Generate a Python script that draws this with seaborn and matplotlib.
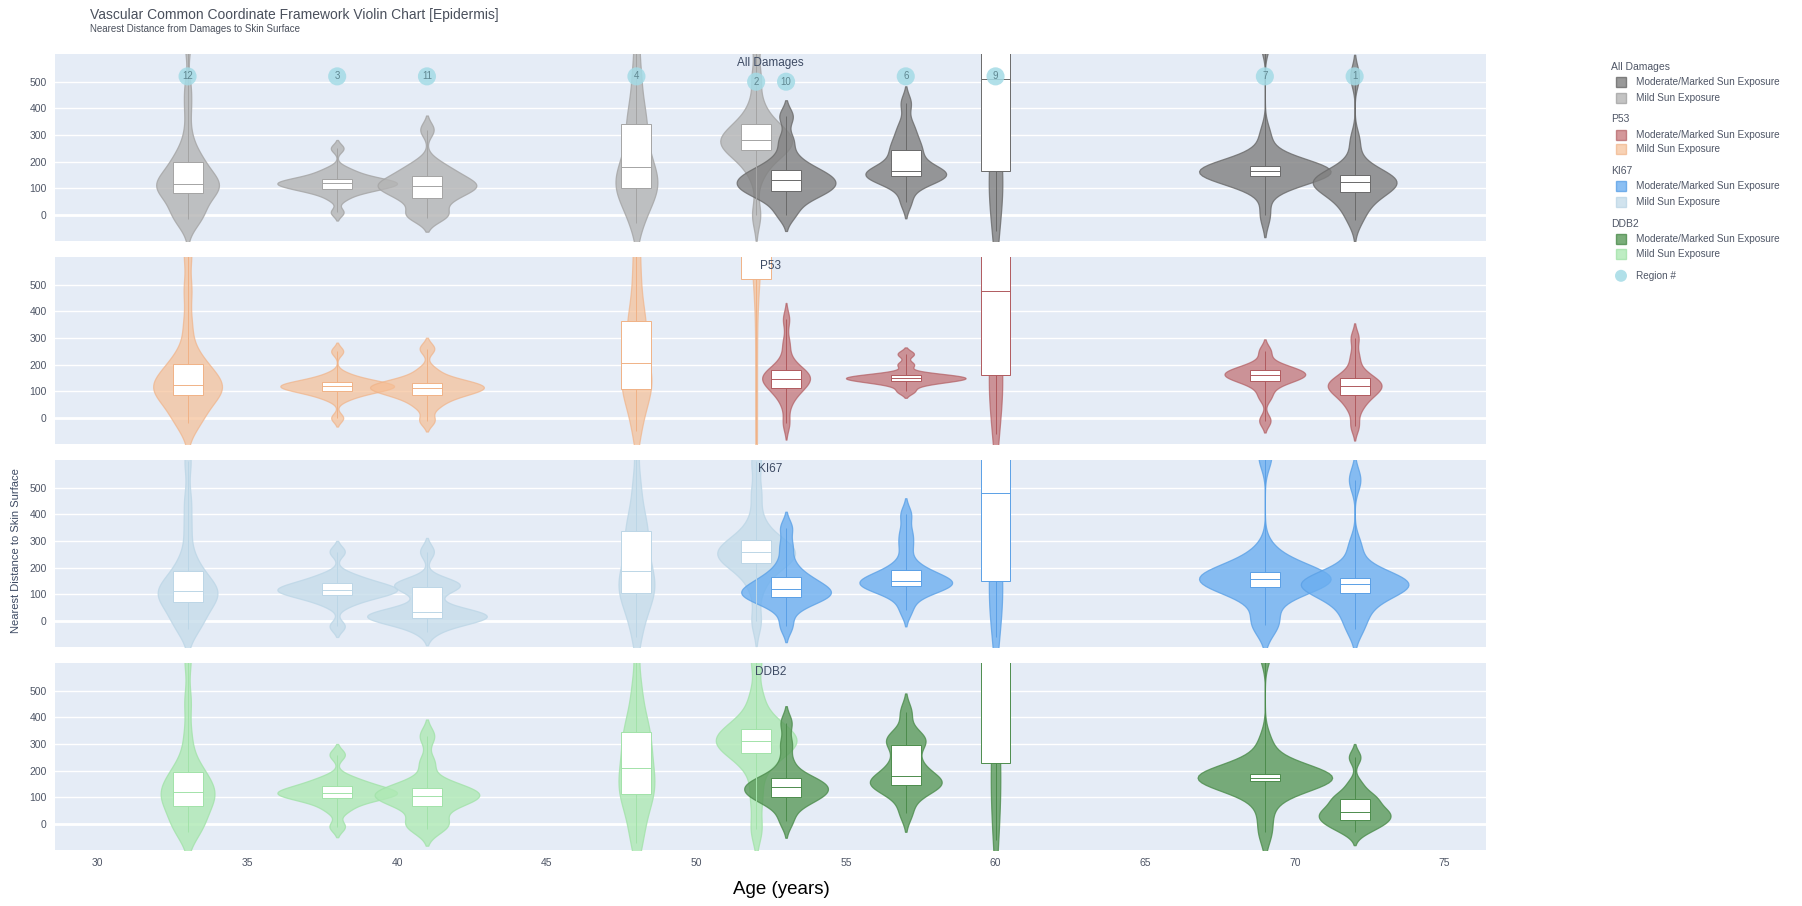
import matplotlib
matplotlib.use("Agg")
import matplotlib.pyplot as plt
from matplotlib.patches import Rectangle, Ellipse
import seaborn as sns

# ---- data -------------------------------------------------------------
AGES_MILD = [33, 38, 41, 48, 52]
AGES_MOD = [53, 57, 60, 69, 72]

# nearest distance to skin surface, one list per sample (ordered like the ages)
ALL_MILD = [
    [-15, -5, 0, 5, 10, 70, 80, 90, 95, 100, 105, 110, 115, 120, 125, 135, 150, 175, 195, 200, 215, 240, 300, 400, 480, 640],
    [10, 60, 80, 90, 95, 100, 105, 110, 115, 118, 120, 122, 125, 130, 135, 140, 150, 160, 175, 250],
    [-10, 0, 10, 50, 60, 75, 90, 100, 105, 110, 115, 125, 135, 150, 160, 175, 200, 320],
    [-30, 20, 60, 90, 100, 110, 130, 160, 180, 200, 250, 300, 340, 380, 450, 550, 700],
    [0, 150, 200, 230, 245, 255, 265, 275, 280, 290, 300, 320, 340, 360, 420, 520, 650],
]
ALL_MOD = [
    [0, 40, 70, 80, 90, 100, 110, 120, 130, 135, 145, 160, 170, 185, 220, 280, 370],
    [50, 110, 130, 140, 145, 150, 155, 160, 165, 175, 200, 230, 245, 270, 300, 340, 420],
    [-60, 40, 120, 155, 165, 350, 450, 500, 510, 540, 580, 620, 680, 750, 850, 1000, 1200],
    [0, 100, 130, 140, 145, 150, 155, 158, 160, 163, 166, 170, 175, 180, 185, 195, 220, 300, 650],
    [-20, 20, 50, 75, 85, 100, 110, 120, 125, 130, 135, 140, 150, 160, 200, 280, 520],
]
P53_MILD = [
    [-20, 0, 10, 60, 80, 95, 100, 110, 115, 125, 135, 150, 175, 195, 210, 250, 350, 480, 620],
    [0, 70, 85, 95, 100, 105, 110, 115, 118, 120, 122, 126, 130, 135, 140, 150, 165, 250],
    [-10, 40, 65, 80, 90, 100, 105, 110, 115, 120, 125, 130, 140, 150, 180, 260],
    [-50, 20, 80, 100, 110, 140, 170, 190, 220, 280, 330, 350, 400, 480, 580, 700],
    [-100, 100, 300, 480, 560, 580, 600, 630, 660, 700, 750, 800, 900, 1000, 1100],
]
P53_MOD = [
    [-20, 50, 90, 100, 115, 130, 140, 145, 150, 160, 170, 175, 190, 220, 280, 370],
    [100, 125, 135, 140, 145, 148, 150, 152, 155, 160, 165, 200, 240],
    [-60, 40, 120, 155, 160, 300, 400, 450, 475, 500, 540, 600, 680, 750, 850, 1000, 1200],
    [-10, 80, 120, 140, 150, 155, 160, 165, 170, 180, 185, 200, 250],
    [-30, 30, 60, 80, 90, 105, 115, 120, 125, 135, 145, 155, 180, 230, 300],
]
KI67_MILD = [
    [-30, -10, 0, 20, 60, 75, 85, 95, 105, 110, 115, 120, 135, 160, 185, 200, 250, 350, 450, 600],
    [-20, 60, 80, 90, 100, 105, 110, 115, 120, 125, 130, 140, 145, 160, 175, 260],
    [-40, -10, 0, 5, 10, 15, 20, 25, 30, 35, 40, 80, 120, 130, 135, 140, 150, 260],
    [-60, 20, 60, 100, 105, 130, 160, 175, 200, 250, 300, 330, 360, 420, 520, 700],
    [0, 120, 180, 210, 220, 235, 245, 255, 260, 270, 285, 300, 320, 380, 480, 600],
]
KI67_MOD = [
    [-20, 40, 70, 80, 90, 95, 100, 110, 120, 125, 135, 150, 165, 180, 220, 280, 350],
    [40, 90, 115, 125, 130, 135, 140, 145, 150, 155, 165, 180, 190, 220, 280, 330, 400],
    [-60, 30, 110, 145, 150, 300, 400, 450, 480, 510, 550, 600, 680, 750, 850, 1000, 1200],
    [-15, 0, 90, 120, 130, 140, 150, 155, 160, 165, 170, 180, 190, 210, 260, 620],
    [-30, 20, 60, 90, 110, 120, 130, 135, 140, 145, 150, 160, 170, 200, 280, 530],
]
DDB2_MILD = [
    [-30, -10, 0, 10, 60, 75, 90, 100, 110, 120, 130, 145, 170, 190, 200, 240, 330, 460, 620],
    [-10, 50, 75, 90, 100, 105, 110, 115, 118, 122, 130, 140, 145, 160, 175, 260],
    [-20, 0, 10, 60, 75, 90, 100, 105, 110, 120, 130, 140, 160, 230, 330],
    [-70, 0, 70, 110, 115, 150, 190, 210, 250, 300, 330, 360, 420, 520, 700],
    [-20, 100, 200, 260, 275, 290, 300, 310, 320, 335, 350, 365, 400, 480, 620],
]
DDB2_MOD = [
    [10, 60, 90, 95, 105, 115, 125, 135, 140, 150, 160, 170, 180, 230, 300, 380],
    [40, 100, 130, 140, 150, 155, 165, 170, 190, 220, 240, 290, 310, 320, 340, 420],
    [-60, 40, 130, 215, 230, 400, 500, 560, 620, 660, 700, 750, 800, 850, 950, 1100, 1300],
    [-30, 60, 140, 155, 162, 166, 170, 172, 175, 178, 182, 186, 192, 210, 300, 650],
    [-30, -10, 0, 10, 20, 30, 40, 45, 55, 70, 90, 100, 110, 150, 250],
]

PANEL_TITLES = ["All Damages", "P53", "KI67", "DDB2"]
PANEL_DATA = [(ALL_MILD, ALL_MOD), (P53_MILD, P53_MOD),
              (KI67_MILD, KI67_MOD), (DDB2_MILD, DDB2_MOD)]

REGION_AGES = [33, 38, 41, 48, 52, 53, 57, 60, 69, 72]
REGION_Y = [520, 520, 520, 520, 500, 500, 520, 520, 520, 520]
REGION_LABELS = ["12", "3", "11", "4", "2", "10", "6", "9", "7", "1"]

X_TICKS = [30, 35, 40, 45, 50, 55, 60, 65, 70, 75]
Y_TICKS = [0, 100, 200, 300, 400, 500]

# ---- styling ----------------------------------------------------------
# (mild fill, mild line, moderate fill, moderate line, alpha)
PANEL_COLORS = [
    ("#b4b4b4", "#a4a4a4", "#808080", "#6a6a6a", 0.8),
    ("#f6bd92", "#f0b286", "#c0676b", "#b05a5e", 0.68),
    ("#c5dcea", "#bcd6e6", "#6aaef0", "#5aa0e6", 0.78),
    ("#aee9b4", "#a2e2a9", "#5a9a5a", "#4c8c4c", 0.8),
]
# maximum violin width (in years) per sample
WIDTH_MILD = [
    [2.1, 4.0, 3.3, 1.4, 2.4],
    [2.3, 3.8, 3.8, 1.0, 0.3],
    [2.0, 4.0, 4.0, 1.2, 2.6],
    [1.8, 4.0, 3.5, 1.2, 2.7],
]
WIDTH_MOD = [
    [3.3, 2.7, 0.7, 4.4, 2.8],
    [1.6, 4.0, 0.6, 2.7, 1.8],
    [3.0, 3.1, 0.6, 4.4, 3.6],
    [2.8, 2.4, 0.5, 4.5, 2.4],
]

FONT = ["Liberation Sans", "DejaVu Sans"]
plt.rcParams["font.family"] = FONT
TEXT_COL = "#4f5666"
BG = "#e5ecf6"
REGION_COL = "#a4dbe6"

W, H = 1802, 906
fig = plt.figure(figsize=(W / 100, H / 100), dpi=100)
fig.patch.set_facecolor("white")

PANEL_TOPS = [54, 257, 460, 663]
PANEL_H = 187
LEFT, RIGHT = 55, 1486


def draw_sample(ax, age, vals, width, fill, line, alpha):
    xs = [age] * len(vals)
    sns.violinplot(x=xs, y=vals, ax=ax, native_scale=True, orient="x",
                   width=width, color=fill, linecolor=line, linewidth=0.9,
                   inner=None, bw_adjust=0.6, cut=2, saturation=1,
                   alpha=alpha)
    sns.boxplot(x=xs, y=vals, ax=ax, native_scale=True, orient="x",
                width=1.0, color="white", linecolor=line, linewidth=0.7,
                whis=(0, 100), showcaps=False, showfliers=False,
                saturation=1)


axes = []
for i, top in enumerate(PANEL_TOPS):
    ax = fig.add_axes([LEFT / W, 1 - (top + PANEL_H) / H,
                       (RIGHT - LEFT) / W, PANEL_H / H])
    axes.append(ax)
    ax.set_facecolor(BG)
    ax.set_axisbelow(True)
    mild_sets, mod_sets = PANEL_DATA[i]
    mf, ml, df, dl, alpha = PANEL_COLORS[i]
    for age, vals, w in zip(AGES_MILD, mild_sets, WIDTH_MILD[i]):
        draw_sample(ax, age, vals, w, mf, ml, alpha)
    for age, vals, w in zip(AGES_MOD, mod_sets, WIDTH_MOD[i]):
        draw_sample(ax, age, vals, w, df, dl, alpha)

    ax.set_xlim(28.57, 76.39)
    ax.set_ylim(-98, 604)
    ax.set_yticks(Y_TICKS)
    ax.set_xticks(X_TICKS)
    ax.grid(axis="y", color="white", linewidth=1.0)
    ax.grid(axis="x", visible=False)
    ax.axhline(0, color="white", linewidth=2.0, zorder=0.6)
    for s in ax.spines.values():
        s.set_visible(False)
    ax.tick_params(length=0, labelsize=7.5, colors=TEXT_COL, pad=6)
    ax.set_xlabel("")
    ax.set_ylabel("")
    if i < 3:
        ax.set_xticklabels([])
    ax.text(0.5, 1 - 9 / PANEL_H, PANEL_TITLES[i], transform=ax.transAxes,
            ha="center", va="center", fontsize=8.5, color="#3d4a63", zorder=6)

# region markers on the top panel
ax0 = axes[0]
sns.scatterplot(x=REGION_AGES, y=REGION_Y, ax=ax0, s=170, color=REGION_COL,
                alpha=0.85, edgecolor="none", legend=False, zorder=5)
for a, yv, lab in zip(REGION_AGES, REGION_Y, REGION_LABELS):
    ax0.text(a, yv, lab, ha="center", va="center", fontsize=7,
             color="#5f8791", zorder=6)

# titles and axis labels
fig.text(90 / W, 1 - 15 / H, "Vascular Common Coordinate Framework Violin Chart [Epidermis]",
         fontsize=10, color="#4a505c", ha="left", va="center")
fig.text(90 / W, 1 - 29 / H, "Nearest Distance from Damages to Skin Surface",
         fontsize=7, color="#4a505c", ha="left", va="center")
fig.text(16 / W, 1 - 551 / H, "Nearest Distance to Skin Surface", rotation=90,
         fontsize=8, color="#3d4a63", ha="center", va="center")
fig.text(781 / W, 1 - 890 / H, "Age (years)", fontsize=13.5, color="black",
         ha="center", va="center")

# grouped legend
LEG_X_TEXT = 1611 / W
LEG_SW_X = 1616
LEG_ITEM_X = 1636 / W
groups = [
    ("All Damages", 66.7, [81.6, 97.7]),
    ("P53", 119.5, [134.5, 149.4]),
    ("KI67", 171.2, [186.2, 202.3]),
    ("DDB2", 224.1, [239.0, 254.0]),
]
item_names = ["Moderate/Marked Sun Exposure", "Mild Sun Exposure"]
for gi, (gname, gy, iys) in enumerate(groups):
    fig.text(LEG_X_TEXT, 1 - gy / H, gname, fontsize=7.5, color=TEXT_COL,
             ha="left", va="center")
    mf, ml, df, dl, alpha = PANEL_COLORS[gi]
    for (fill, line), name, iy in zip([(df, dl), (mf, ml)], item_names, iys):
        fig.patches.append(Rectangle((LEG_SW_X / W, 1 - (iy + 5) / H), 10 / W, 10 / H,
                                     transform=fig.transFigure, facecolor=fill,
                                     edgecolor=line, linewidth=1.0, alpha=alpha))
        fig.text(LEG_ITEM_X, 1 - iy / H, name, fontsize=7.2, color=TEXT_COL,
                 ha="left", va="center")
fig.patches.append(Ellipse((1621 / W, 1 - 275.8 / H), 12 / W, 12 / H,
                           transform=fig.transFigure, facecolor=REGION_COL,
                           edgecolor="none", alpha=0.85))
fig.text(LEG_ITEM_X, 1 - 275.8 / H, "Region #", fontsize=7.2, color=TEXT_COL,
         ha="left", va="center")

fig.savefig("out.png", dpi=100, facecolor="white")
